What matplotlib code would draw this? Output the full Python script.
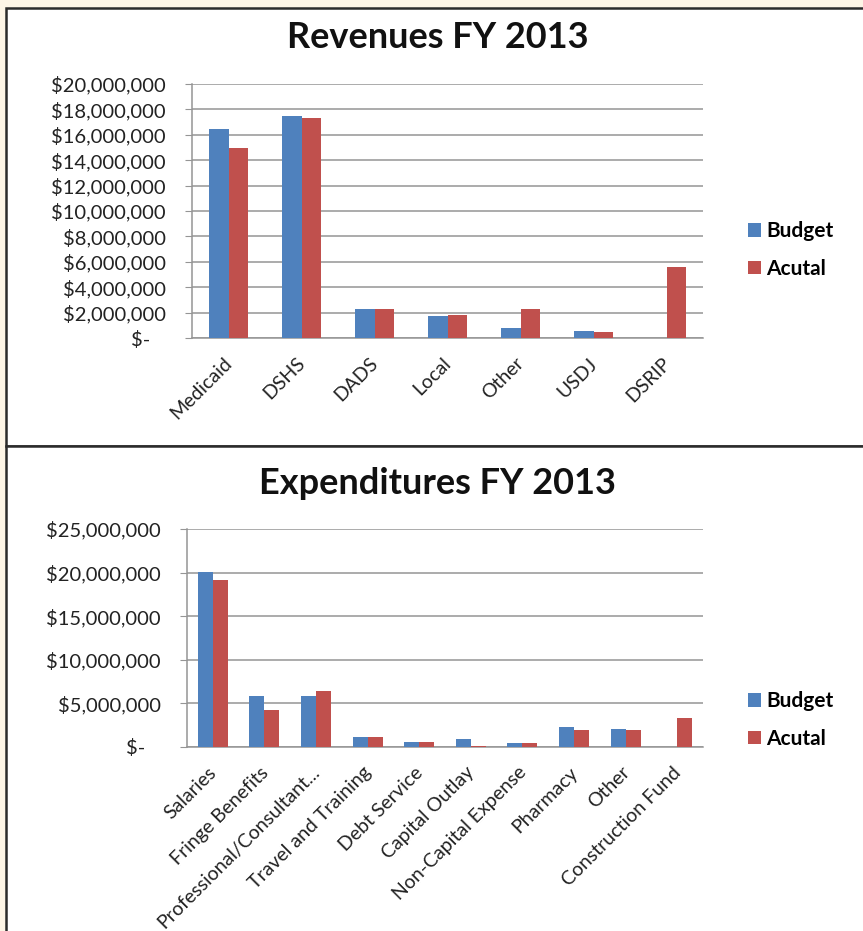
import matplotlib
matplotlib.use("Agg")
import matplotlib.pyplot as plt
from matplotlib.patches import Rectangle
from matplotlib.transforms import ScaledTranslation
import numpy as np

plt.rcParams['text.parse_math'] = False
plt.rcParams['font.family'] = ['Lato', 'DejaVu Sans']

# ---------------- data ----------------
rev_categories = ["Medicaid", "DSHS", "DADS", "Local", "Other", "USDJ", "DSRIP"]
rev_budget = [16.45e6, 17.5e6, 2.3e6, 1.7e6, 0.75e6, 0.58e6, 0.0]
rev_actual = [14.95e6, 17.3e6, 2.3e6, 1.8e6, 2.3e6, 0.47e6, 5.6e6]
rev_ticks = [0, 2e6, 4e6, 6e6, 8e6, 10e6, 12e6, 14e6, 16e6, 18e6, 20e6]

exp_categories = ["Salaries", "Fringe Benefits", "Professional/Consultant...",
                  "Travel and Training", "Debt Service", "Capital Outlay",
                  "Non-Capital Expense", "Pharmacy", "Other", "Construction Fund"]
exp_budget = [20.1e6, 5.85e6, 5.85e6, 1.1e6, 0.55e6, 0.95e6, 0.42e6, 2.35e6, 2.1e6, 0.0]
exp_actual = [19.15e6, 4.3e6, 6.4e6, 1.1e6, 0.55e6, 0.15e6, 0.42e6, 1.95e6, 1.95e6, 3.3e6]
exp_ticks = [0, 5e6, 10e6, 15e6, 20e6, 25e6]

series_names = ["Budget", "Acutal"]
titles = ["Revenues FY 2013", "Expenditures FY 2013"]

BLUE = "#4F81BD"
RED = "#C0504D"
GRID = "#959595"
CREAM = "#FDF5E6"

W, H = 863, 931
fig = plt.figure(figsize=(W / 100, H / 100), dpi=100)
fig.patch.set_facecolor(CREAM)


def px_rect(x0, y0, x1, y1):
    return [x0 / W, 1 - y1 / H, (x1 - x0) / W, (y1 - y0) / H]


# white panels with dark frame
for (y0, y1) in [(8, 446), (446, 940)]:
    r = Rectangle((6 / W, 1 - y1 / H), (W + 10 - 6) / W, (y1 - y0) / H,
                  transform=fig.transFigure, facecolor="white",
                  edgecolor="#2b2b2b", linewidth=1.8, zorder=-5)
    fig.patches.append(r)


def money(v):
    if v == 0:
        return "$-   "
    return "${:,.0f}".format(v)


def draw(ax_rect, cats, bud, act, ticks, title, title_y, bar_w, leg_y):
    ax = fig.add_axes(ax_rect)
    ax.set_facecolor("none")
    ax.set_zorder(2)
    x = np.arange(len(cats))
    ax.bar(x - bar_w / 2, bud, bar_w, color=BLUE, label=series_names[0], zorder=3)
    ax.bar(x + bar_w / 2, act, bar_w, color=RED, label=series_names[1], zorder=3)
    ax.set_xlim(-0.5, len(cats) - 0.5)
    ax.set_ylim(0, ticks[-1])
    ax.set_yticks(ticks)
    ax.set_yticklabels([money(t) for t in ticks], fontsize=14.5, color="#222222")
    ax.yaxis.grid(True, color=GRID, linewidth=1.1, zorder=0)
    ax.set_axisbelow(True)
    for s in ["top", "right"]:
        ax.spines[s].set_visible(False)
    for s in ["left", "bottom"]:
        ax.spines[s].set_color(GRID)
        ax.spines[s].set_linewidth(1.1)
    ax.tick_params(axis="y", length=5, color=GRID, pad=14)
    ax.set_xticks(x)
    ax.set_xticklabels(cats, rotation=45, ha="right", va="top",
                       rotation_mode="anchor", fontsize=14, color="#222222")
    ax.tick_params(axis="x", length=0, pad=12)
    shift = ScaledTranslation(-5 / 100, 0, fig.dpi_scale_trans)
    for lab in ax.get_xticklabels():
        lab.set_transform(lab.get_transform() + shift)
    fig.text(0.507, 1 - title_y / H, title, ha="center", va="center",
             fontsize=26, fontweight="bold", color="#111111")
    ax.legend(loc="center left", bbox_to_anchor=(738 / W, 1 - leg_y / H),
              bbox_transform=fig.transFigure, frameon=False,
              prop={"weight": "bold", "size": 15},
              handlelength=0.62, handleheight=0.62, handletextpad=0.25,
              labelspacing=0.85, borderpad=0)
    return ax


draw(px_rect(192, 84, 703, 338), rev_categories, rev_budget, rev_actual,
     rev_ticks, titles[0], 38, 0.27, 250)
draw(px_rect(187, 529, 703, 747), exp_categories, exp_budget, exp_actual,
     exp_ticks, titles[1], 484, 0.29, 720)

fig.savefig("out.png", dpi=100, facecolor=CREAM)
